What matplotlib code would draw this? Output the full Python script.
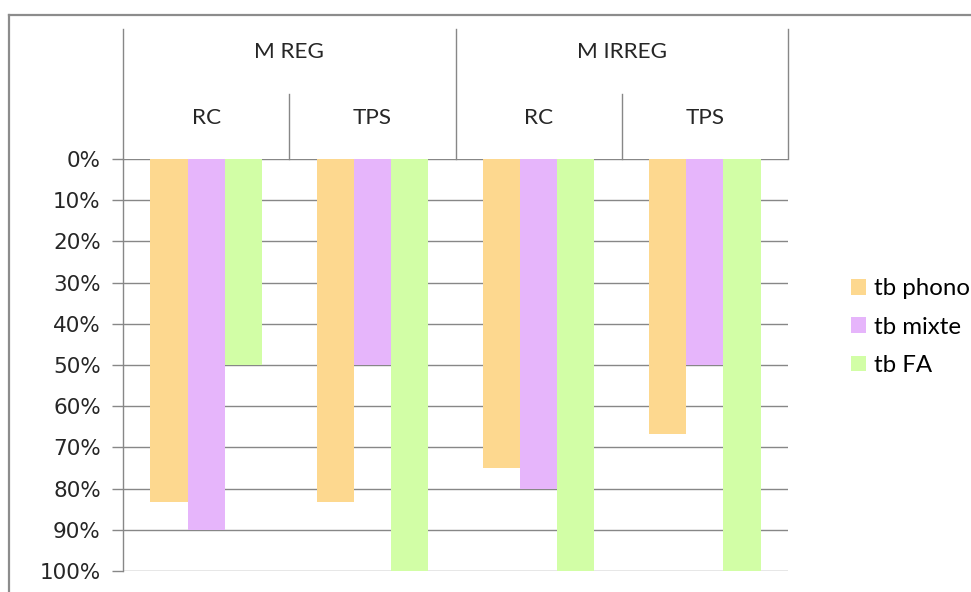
import matplotlib.pyplot as plt
from matplotlib.lines import Line2D
from matplotlib.ticker import FuncFormatter

# data (share of answers, 0..1)
groups = ['M REG', 'M IRREG']
subcats = ['RC', 'TPS', 'RC', 'TPS']
series = ['tb phono', 'tb mixte', 'tb FA']
tb_phono = [0.8333, 0.8333, 0.75, 0.6667]
tb_mixte = [0.90, 0.50, 0.80, 0.50]
tb_fa = [0.50, 1.00, 1.00, 1.00]
colors = ['#FDD88F', '#E6B5FB', '#D2FEA6']

grid_col = '#878787'
txt_font = ['Lato', 'DejaVu Sans']

fig = plt.figure(figsize=(9.71, 5.92), dpi=100)
ax = fig.add_axes([123 / 971, 21 / 592, 665 / 971, 412 / 592])

# outer chart frame (cropped at right and bottom)
fig.add_artist(Line2D([9 / 971, 9 / 971], [0, 1 - 15 / 592], transform=fig.transFigure,
                      color='#8c8c8c', lw=1.6))
fig.add_artist(Line2D([9 / 971, 1], [1 - 15 / 592, 1 - 15 / 592], transform=fig.transFigure,
                      color='#8c8c8c', lw=1.6))

x = list(range(len(subcats)))
w = 0.224
for k, (vals, name) in enumerate(zip([tb_phono, tb_mixte, tb_fa], series)):
    ax.bar([i + (k - 1) * w for i in x], vals, width=w, color=colors[k], label=name, zorder=2)

ax.set_xlim(-0.5, len(subcats) - 0.5)
ax.set_ylim(1.0, 0.0)
ax.set_yticks([i / 10 for i in range(11)])
ax.yaxis.set_major_formatter(FuncFormatter(lambda v, p: f'{v * 100:.0f}%'))
ax.tick_params(axis='y', length=8, width=1, color=grid_col, pad=8, labelsize=15.5,
               labelcolor='#262626')
ax.set_xticks([])
ax.grid(axis='y', color=grid_col, lw=1, zorder=1)
for s in ['top', 'right', 'bottom']:
    ax.spines[s].set_visible(False)
ax.spines['left'].set_color(grid_col)
ax.spines['left'].set_linewidth(1)

# two-level category header above the plot
tr = ax.get_xaxis_transform()
y_top = 1 + (159 - 29) / 412
y_mid = 1 + (159 - 94) / 412
for b in [-0.5, 1.5, 3.5]:
    ax.add_line(Line2D([b, b], [1, y_top], transform=tr, color=grid_col, lw=1, clip_on=False))
for b in [0.5, 2.5]:
    ax.add_line(Line2D([b, b], [1, y_mid], transform=tr, color=grid_col, lw=1, clip_on=False))
for g, name in enumerate(groups):
    ax.text(2 * g + 0.5, 1 + (159 - 52) / 412, name, transform=tr, ha='center', va='center',
            fontsize=16.2, family=txt_font, color='#262626')
for i, name in enumerate(subcats):
    ax.text(i, 1 + (159 - 118) / 412, name, transform=tr, ha='center', va='center',
            fontsize=16.2, family=txt_font, color='#262626')

ax.legend(loc='center left', bbox_to_anchor=(851 / 971, 1 - 327 / 592),
          bbox_transform=fig.transFigure, frameon=False, borderpad=0, borderaxespad=0,
          handlelength=0.62, handleheight=0.62, handletextpad=0.35, labelspacing=0.72,
          prop={'family': txt_font, 'size': 17.3})

fig.savefig('out.png', dpi=100)
